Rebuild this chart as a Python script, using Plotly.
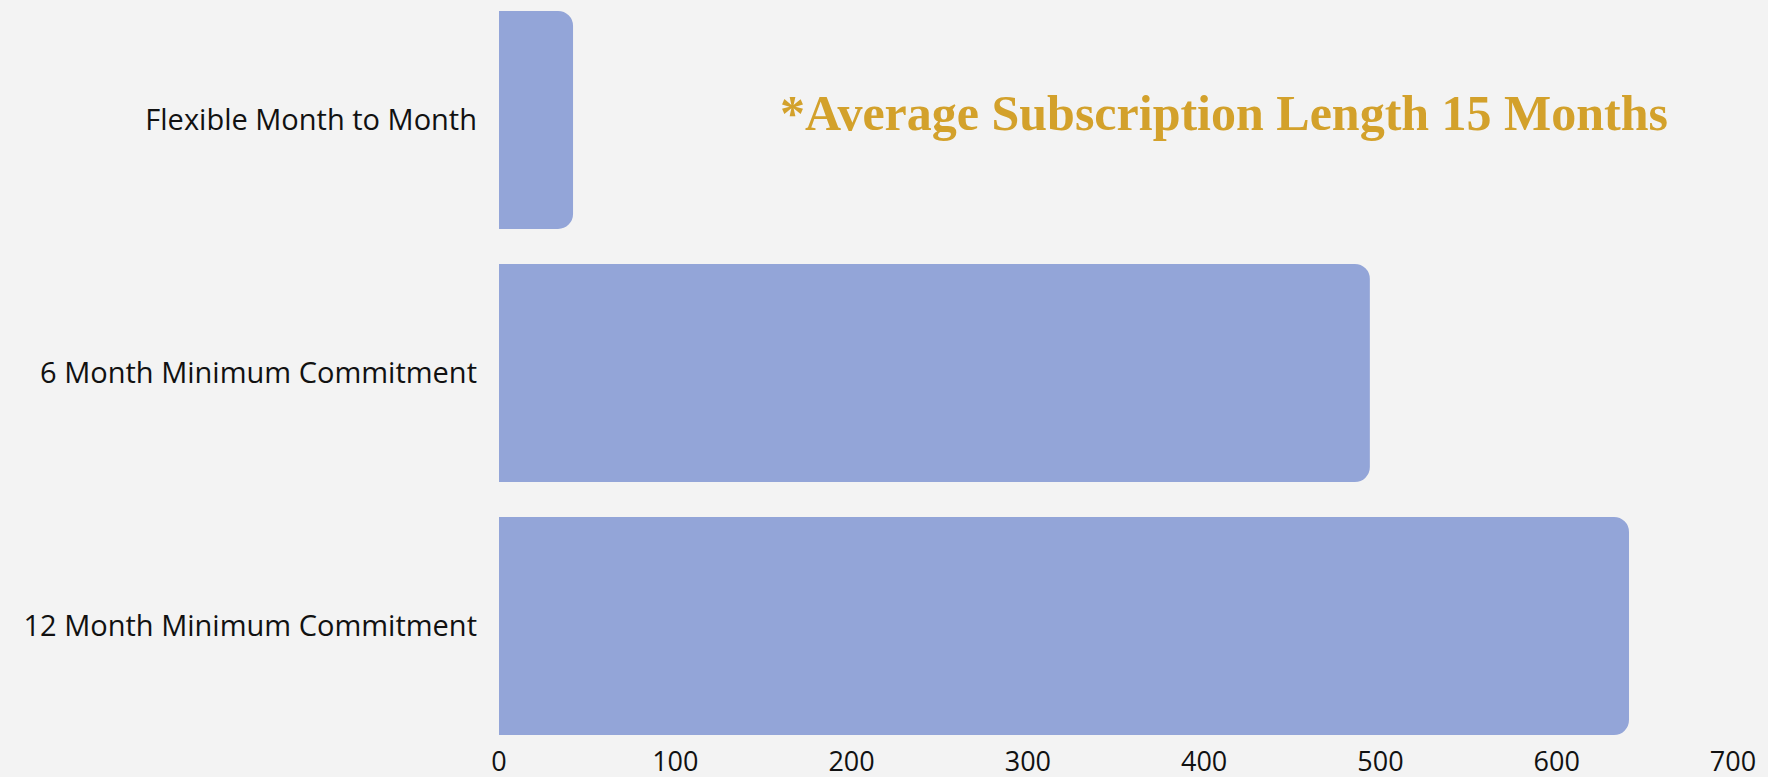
import plotly.graph_objects as go

categories = ["12 Month Minimum Commitment", "6 Month Minimum Commitment", "Flexible Month to Month"]
values = [641, 494, 42]
x_ticks = [0, 100, 200, 300, 400, 500, 600, 700]
note = "*Average Subscription Length 15 Months"

W, H = 1768, 777
ml, mr, mt, mb = 499, 35, 0, 28

fig = go.Figure(go.Bar(
    x=values, y=categories, orientation="h",
    marker=dict(color="#93A5D8", cornerradius=15, line=dict(width=0)),
    hoverinfo="skip",
))

fig.update_layout(
    width=W, height=H,
    margin=dict(l=ml, r=mr, t=mt, b=mb, pad=0, autoexpand=False),
    paper_bgcolor="#F3F3F3", plot_bgcolor="#F3F3F3",
    bargap=0.138,
    showlegend=False,
    font=dict(family="Open Sans", color="#111111"),
    xaxis=dict(range=[0, 700], tickvals=x_ticks, showgrid=False, zeroline=False, automargin=False,
               showline=False, ticks="", tickfont=dict(size=27, family="Open Sans", color="#111111"),
               ticklabelstandoff=-6, fixedrange=True),
    yaxis=dict(range=[-0.486, 2.474], showgrid=False, zeroline=False, showline=False, ticks="",
               automargin=False,
               tickfont=dict(size=29, family="Open Sans", color="#111111"),
               ticklabelstandoff=21, fixedrange=True),
    annotations=[dict(
        text="<b>" + note + "</b>", xref="paper", yref="paper", x=0.5875, y=0.849,
        xanchor="center", yanchor="middle", showarrow=False,
        font=dict(family="Liberation Serif", size=50, color="#D3A12B"),
    )],
)

fig.write_html("out.html", config={"displayModeBar": False},
               post_script="document.body.style.margin='0';document.body.style.overflow='hidden';")
